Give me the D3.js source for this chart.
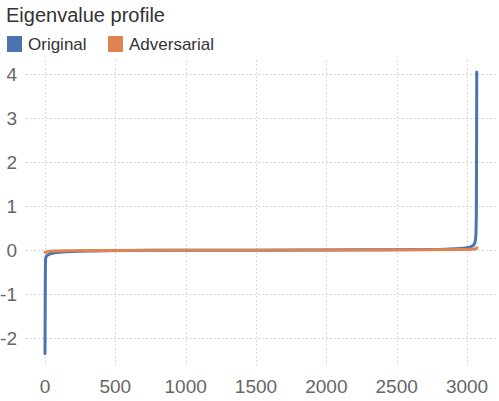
<!DOCTYPE html>
<html>
<head>
<meta charset="utf-8">
<script src="https://cdn.jsdelivr.net/npm/d3@7"></script>
<style>
  body { margin: 0; background: #fff; }
  svg { display: block; font-family: "Liberation Sans", Arial, Helvetica, sans-serif; }
</style>
</head>
<body>
<div id="chart"></div>
<script>
// eigenvalue index / value pairs
var origIdx = [0, 1, 2, 3, 4, 6, 10, 20, 40, 70, 120, 200, 350, 600, 1000, 1500, 2000, 2400, 2700, 2850, 2950, 3010, 3040, 3055, 3062, 3066, 3068, 3069];
var origVal = [-2.35, -1.6, -0.8, -0.35, -0.22, -0.17, -0.14, -0.11, -0.08, -0.06, -0.045, -0.03, -0.018, -0.008, -0.002, 0.0, 0.004, 0.008, 0.014, 0.022, 0.035, 0.06, 0.1, 0.16, 0.3, 0.8, 2.5, 4.05];

var advIdx = [0, 20, 60, 150, 400, 1000, 2000, 2700, 2950, 3040, 3065, 3070];
var advVal = [-0.05, -0.035, -0.022, -0.014, -0.008, -0.003, 0.002, 0.006, 0.012, 0.02, 0.035, 0.055];

var seriesNames = ['Original', 'Adversarial'];
var seriesColors = ['#4C72B0', '#DD8452'];
var xTicks = [0, 500, 1000, 1500, 2000, 2500, 3000];
var yTicks = [-2, -1, 0, 1, 2, 3, 4];

var width = 499, height = 401;
var box = {left: 26, right: 497, top: 60, bottom: 365};

var svg = d3.select('#chart').append('svg')
    .attr('width', width)
    .attr('height', height);

var x = d3.scaleLinear().domain([-135, 3213]).range([box.left, box.right]);
var y = d3.scaleLinear().domain([-2.61, 4.32]).range([box.bottom, box.top]);

// grid
var grid = svg.append('g');
grid.selectAll('line.gx')
    .data(xTicks)
    .join('line')
    .attr('class', 'gx')
    .attr('x1', function(d) { return Math.round(x(d)) + 0.5; })
    .attr('x2', function(d) { return Math.round(x(d)) + 0.5; })
    .attr('y1', box.top)
    .attr('y2', box.bottom)
    .attr('stroke', '#d9d9d9')
    .attr('stroke-dasharray', '2,2');
grid.selectAll('line.gy')
    .data(yTicks)
    .join('line')
    .attr('class', 'gy')
    .attr('y1', function(d) { return Math.round(y(d)) + 0.5; })
    .attr('y2', function(d) { return Math.round(y(d)) + 0.5; })
    .attr('x1', box.left)
    .attr('x2', box.right)
    .attr('stroke', '#d9d9d9')
    .attr('stroke-dasharray', '2,2');

// tick labels
svg.append('g').selectAll('text')
    .data(yTicks)
    .join('text')
    .attr('x', 17)
    .attr('y', function(d) { return y(d); })
    .attr('dy', '0.35em')
    .attr('text-anchor', 'end')
    .attr('font-size', '19px')
    .attr('fill', '#666')
    .text(function(d) { return d; });

svg.append('g').selectAll('text')
    .data(xTicks)
    .join('text')
    .attr('x', function(d) { return x(d); })
    .attr('y', 393)
    .attr('text-anchor', 'middle')
    .attr('font-size', '19px')
    .attr('fill', '#666')
    .text(function(d) { return d; });

// lines
var line = d3.line()
    .x(function(d) { return x(d[0]); })
    .y(function(d) { return y(d[1]); })
    .curve(d3.curveMonotoneX);

var series = [
    d3.zip(origIdx, origVal),
    d3.zip(advIdx, advVal)
];

svg.append('g').selectAll('path')
    .data(series)
    .join('path')
    .attr('d', line)
    .attr('fill', 'none')
    .attr('stroke', function(d, i) { return seriesColors[i]; })
    .attr('stroke-width', 3)
    .attr('stroke-linejoin', 'round')
    .attr('stroke-linecap', 'round');

// title
svg.append('text')
    .attr('x', 6)
    .attr('y', 22)
    .attr('font-size', '20px')
    .attr('fill', '#333')
    .text('Eigenvalue profile');

// legend
var legendX = [7, 108];
var legend = svg.append('g').selectAll('g')
    .data(seriesNames)
    .join('g')
    .attr('transform', function(d, i) { return 'translate(' + legendX[i] + ',0)'; });
legend.append('rect')
    .attr('x', 0)
    .attr('y', 36)
    .attr('width', 15)
    .attr('height', 16)
    .attr('fill', function(d, i) { return seriesColors[i]; });
legend.append('text')
    .attr('x', 21)
    .attr('y', 50)
    .attr('font-size', '17px')
    .attr('fill', '#333')
    .text(function(d) { return d; });
</script>
</body>
</html>
